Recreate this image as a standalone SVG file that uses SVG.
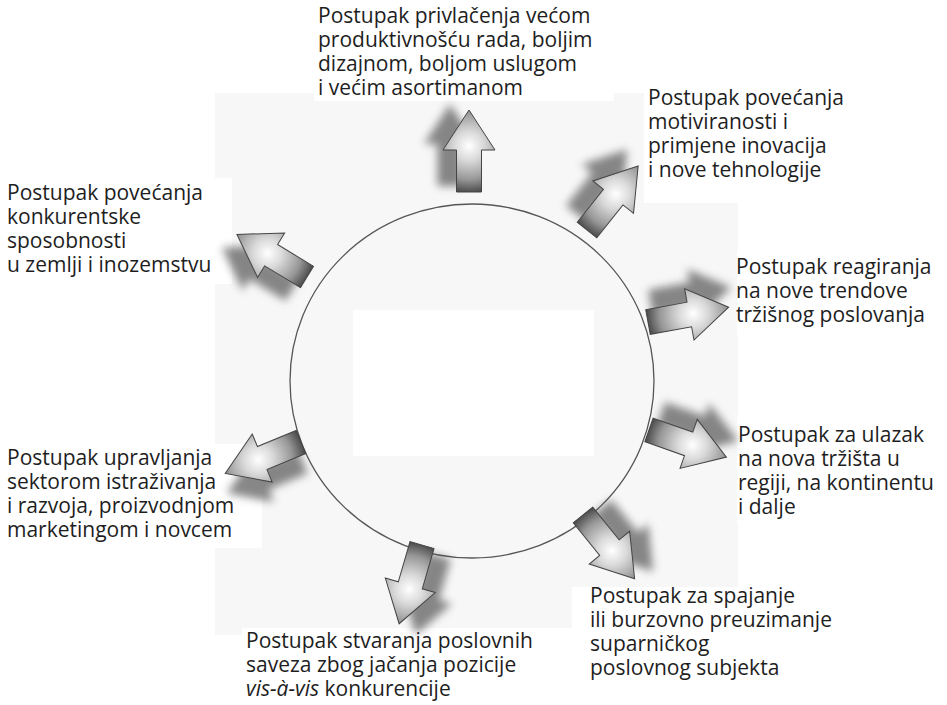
<svg xmlns="http://www.w3.org/2000/svg" width="947" height="705" viewBox="0 0 947 705">
<style>
.t{font-family:"Open Sans","Noto Sans","Liberation Sans",sans-serif;font-size:21px;fill:#1e1e1e}
.bg{fill:#ffffff}
.ar{fill:url(#ag);stroke:#444;stroke-width:1}
.sh{fill:#555;opacity:0.7;filter:url(#blur)}
</style>
<defs>
<radialGradient id="ag" gradientUnits="userSpaceOnUse" cx="46" cy="0" r="48">
<stop offset="0" stop-color="#ffffff"/>
<stop offset="0.3" stop-color="#dadada"/>
<stop offset="0.7" stop-color="#979797"/>
<stop offset="1" stop-color="#444444"/>
</radialGradient>
<filter id="blur" x="-30%" y="-30%" width="160%" height="160%"><feGaussianBlur stdDeviation="4"/></filter>
<path id="shape" d="M0,-12.5 L42,-12.5 L42,-26 L82,0 L42,26 L42,12.5 L0,12.5 Z"/>
<g id="arrow">
<use href="#shape" class="sh" transform="translate(6,-19)"/>
<use href="#shape" class="ar"/>
</g>
</defs>
<rect x="0" y="0" width="947" height="705" fill="#ffffff"/>
<rect x="215" y="93" width="523" height="542" fill="#f7f7f7"/>
<rect x="353" y="310" width="241" height="146" fill="#ffffff"/>
<g id="text-bg">
<rect x="314" y="0" width="300" height="101" class="bg"/>
<rect x="644" y="80" width="303" height="123" class="bg"/>
<rect x="0" y="178" width="232" height="106" class="bg"/>
<rect x="737" y="250" width="210" height="86" class="bg"/>
<rect x="737" y="418" width="210" height="106" class="bg"/>
<rect x="0" y="444" width="262" height="104" class="bg"/>
<rect x="572" y="587" width="375" height="118" class="bg"/>
<rect x="242" y="628" width="330" height="77" class="bg"/>
</g>
<ellipse cx="472" cy="381" rx="182" ry="177" fill="none" stroke="#555" stroke-width="1.3"/>
<g id="connectors">
<g id="a1"><use href="#arrow" transform="translate(469,192) rotate(-90)"/></g>
<g id="a2"><use href="#arrow" transform="translate(587,230) rotate(-51.4)"/></g>
<g id="a3"><use href="#arrow" transform="translate(648,322) rotate(-10.4)"/></g>
<g id="a4"><use href="#arrow" transform="translate(649,430) rotate(19.3)"/></g>
<g id="a5"><use href="#arrow" transform="translate(583,515) rotate(51)"/></g>
<g id="a6"><use href="#arrow" transform="translate(422,545) rotate(106.2)"/></g>
<g id="a7"><use href="#arrow" transform="translate(301,442) rotate(157.5)"/></g>
<g id="a8"><use href="#arrow" transform="translate(307,277) rotate(-148.7)"/></g>
</g>
<g id="n-top"><text class="t" x="318" y="23">Postupak privlačenja većom</text><text class="t" x="318" y="47">produktivnošću rada, boljim</text><text class="t" x="318" y="71">dizajnom, boljom uslugom</text><text class="t" x="318" y="95">i većim asortimanom</text></g>
<g id="n-topright"><text class="t" x="648" y="105">Postupak povećanja</text><text class="t" x="648" y="129">motiviranosti i</text><text class="t" x="648" y="153">primjene inovacija</text><text class="t" x="648" y="177">i nove tehnologije</text></g>
<g id="n-leftup"><text class="t" x="7" y="200">Postupak povećanja</text><text class="t" x="7" y="224">konkurentske</text><text class="t" x="7" y="248">sposobnosti</text><text class="t" x="7" y="272">u zemlji i inozemstvu</text></g>
<g id="n-right"><text class="t" x="736" y="274">Postupak reagiranja</text><text class="t" x="736" y="298">na nove trendove</text><text class="t" x="736" y="322">tržišnog poslovanja</text></g>
<g id="n-rightlow"><text class="t" x="738" y="442">Postupak za ulazak</text><text class="t" x="738" y="466">na nova tržišta u</text><text class="t" x="738" y="490">regiji, na kontinentu</text><text class="t" x="738" y="514">i dalje</text></g>
<g id="n-leftlow"><text class="t" x="7" y="465">Postupak upravljanja</text><text class="t" x="7" y="489">sektorom istraživanja</text><text class="t" x="7" y="513">i razvoja, proizvodnjom</text><text class="t" x="7" y="537">marketingom i novcem</text></g>
<g id="n-botright"><text class="t" x="590" y="603">Postupak za spajanje</text><text class="t" x="590" y="627">ili burzovno preuzimanje</text><text class="t" x="590" y="651">suparničkog</text><text class="t" x="590" y="675">poslovnog subjekta</text></g>
<g id="n-bottom"><text class="t" x="246" y="648">Postupak stvaranja poslovnih</text><text class="t" x="246" y="672">saveza zbog jačanja pozicije</text><text class="t" x="246" y="696"><tspan font-style="italic">vis-à-vis</tspan> konkurencije</text></g>
</svg>
